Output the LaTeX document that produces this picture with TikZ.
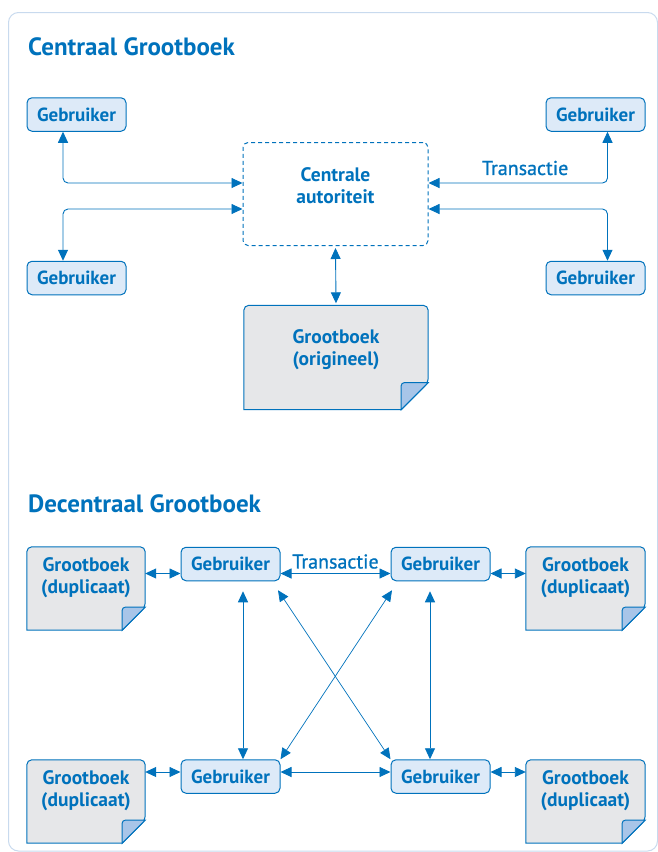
\documentclass[tikz,border=0pt]{standalone}
\usepackage{fontspec}
\setmainfont{PT Sans}
\newfontfamily\semisans[FakeBold=0.9]{PT Sans}
\usetikzlibrary{arrows.meta,backgrounds}
\definecolor{inkblue}{RGB}{0,114,188}
\definecolor{userfill}{RGB}{221,234,248}
\definecolor{bookfill}{RGB}{230,231,233}
\definecolor{foldfill}{RGB}{168,197,232}
\definecolor{framecol}{RGB}{200,218,238}
\tikzset{
  heading/.style={anchor=base west, inner sep=0pt, text=inkblue, font=\bfseries\fontsize{25}{28}\selectfont},
  user/.style={draw=inkblue, fill=userfill, line width=1pt, rounded corners=5pt,
    minimum width=99pt, minimum height=33.5pt, inner sep=0pt, text=inkblue, font=\bfseries\fontsize{19}{21}\selectfont},
  authority/.style={draw=inkblue, line width=1pt, dash pattern=on 4pt off 3pt, rounded corners=5pt,
    minimum width=185pt, minimum height=103pt},
  book/.style={minimum width=#1, inner sep=0pt},
  booktext/.style={align=center, text=inkblue, font=\bfseries\fontsize{19.5}{22}\selectfont},
  link/.style={draw=inkblue, line width=0.9pt, {Triangle[length=11pt,width=10pt]}-{Triangle[length=11pt,width=10pt]}},
  linktext/.style={text=inkblue, font=\semisans\fontsize{20}{22}\selectfont},
}
% sheet with a folded corner behind a book node: name, fold
\newcommand{\booksheet}[2]{%
  \draw[draw=inkblue, fill=bookfill, line width=1pt]
    (#1.north west) [rounded corners=5pt] -- (#1.north east) -- ([yshift=#2]#1.south east)
    [sharp corners] -- ([xshift=-#2]#1.south east) -- (#1.south west) [rounded corners=5pt] -- cycle;
  \draw[draw=inkblue, fill=foldfill, line width=1pt]
    ([xshift=-#2]#1.south east) [rounded corners=3pt] -- ([xshift=-#2,yshift=#2]#1.south east)
    [sharp corners] -- ([yshift=#2]#1.south east) -- cycle;}
\begin{document}
\begin{tikzpicture}[x=1pt,y=-1pt]
%\draw[help lines] (0,0) grid[step=50] (657,852);
\useasboundingbox (0,0) rectangle (657,852);
\draw[framecol, line width=1pt, rounded corners=10pt] (8.5,12.5) rectangle (657.5,851);

% Centraal
\node[heading] (headA) at (28,55) {Centraal Grootboek};

\node[user] (cTL) at (76.5,114.5) {Gebruiker};
\node[user] (cTR) at (595.5,114.5) {Gebruiker};
\node[user] (cBL) at (76.5,278) {Gebruiker};
\node[user] (cBR) at (595.5,278) {Gebruiker};

\node[authority, label={[booktext, yshift=8pt]center:{Centrale\\autoriteit}}] (auth) at (335.5,194) {};
\node[book=184pt, minimum height=104pt, label={[booktext, yshift=8pt]center:{Grootboek\\(origineel)}}] (orig) at (336,357.5) {};

\draw[link, rounded corners=5pt] ([xshift=-13.5pt]cTL.south) |- ([yshift=11pt]auth.west);
\draw[link, rounded corners=5pt] ([xshift=-13.5pt]cBL.north) |- ([yshift=-15pt]auth.west);
\draw[link, rounded corners=5pt] ([xshift=12pt]cTR.south) |- node[linktext, pos=0.73, above=4pt] {Transactie} ([yshift=11pt]auth.east);
\draw[link, rounded corners=5pt] ([xshift=12pt]cBR.north) |- ([yshift=-15pt]auth.east);
\draw[link] ([yshift=-2pt]auth.south) -- ([yshift=2pt]orig.north);

% Decentraal
\node[heading] (headB) at (28,512) {Decentraal Grootboek};

\node[user] (dTL) at (230.5,564) {Gebruiker};
\node[user] (dTR) at (440.5,564) {Gebruiker};
\node[user] (dBL) at (230.5,776.5) {Gebruiker};
\node[user] (dBR) at (440.5,776.5) {Gebruiker};

\node[book=118pt, minimum height=83pt, label={[booktext, yshift=11pt]center:{Grootboek\\(duplicaat)}}] (bTL) at (86,588.5) {};
\node[book=119pt, minimum height=83pt, label={[booktext, yshift=11pt]center:{Grootboek\\(duplicaat)}}] (bTR) at (585.5,588.5) {};
\node[book=118pt, minimum height=83pt, label={[booktext, yshift=11pt]center:{Grootboek\\(duplicaat)}}] (bBL) at (86,801.5) {};
\node[book=119pt, minimum height=83pt, label={[booktext, yshift=11pt]center:{Grootboek\\(duplicaat)}}] (bBR) at (585.5,801.5) {};

\draw[link] ([yshift=15pt]bTL.east) -- ([yshift=-9.5pt]dTL.west);
\draw[link] ([yshift=-9.5pt]dTR.east) -- ([yshift=15pt]bTR.west);
\draw[link] ([yshift=29.5pt]bBL.east) -- ([yshift=4.5pt]dBL.west);
\draw[link] ([yshift=4.5pt]dBR.east) -- ([yshift=29.5pt]bBR.west);

\draw[link] ([yshift=-9.5pt]dTL.east) -- node[linktext, above=1pt] {Transactie} ([yshift=-9.5pt]dTR.west);
\draw[link] ([yshift=4.5pt]dBL.east) -- ([yshift=4.5pt]dBR.west);
\draw[link] ([xshift=12.5pt,yshift=-10pt]dTL.south) -- ([xshift=12.5pt]dBL.north);
\draw[link] ([xshift=-10.5pt,yshift=-10pt]dTR.south) -- ([xshift=-10.5pt]dBR.north);
\draw[link, line width=0.7pt] ([xshift=-2.5pt,yshift=-9pt]dTL.south east) -- (dBR.north west);
\draw[link, line width=0.7pt] ([xshift=1.5pt,yshift=-9pt]dTR.south west) -- (dBL.north east);

\begin{scope}[on background layer]
\foreach \b/\f in {orig/27pt, bTL/23pt, bTR/23pt, bBL/23pt, bBR/23pt}
  \booksheet{\b}{\f};
\end{scope}
\end{tikzpicture}
\end{document}
